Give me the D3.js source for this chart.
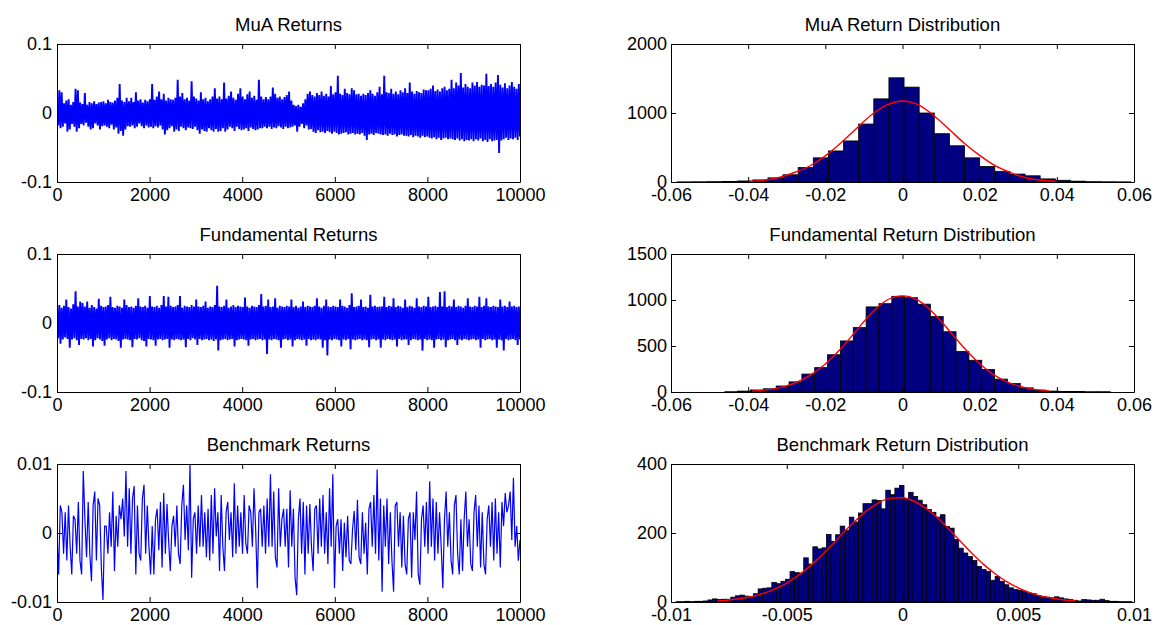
<!DOCTYPE html>
<html>
<head>
<meta charset="utf-8">
<script src="https://cdn.jsdelivr.net/npm/d3@7"></script>
<style>
  html, body { margin: 0; padding: 0; background: #ffffff; }
  svg { display: block; font-family: "Liberation Sans", Arial, Helvetica, sans-serif; }
</style>
</head>
<body>
<svg id="chart" width="1155" height="625"></svg>
<script>
// ---------------------------------------------------------------------------
// Return series (values in thousandths, evenly spaced over 0..10000 steps)
// ---------------------------------------------------------------------------
const muaReturns = [
  12,-18, 33,-22, 30,-20, 14,-15, 18,-27, 20,-24, 12,-16, 16,-20, 35,-27, 33,-22,
  15,-16, 13,-18, 29,-14, 12,-20, 16,-24, 14,-22, 17,-15, 13,-18, 15,-24, 16,-19,
  17,-18, 14,-20, 19,-22, 16,-17, 15,-24, 18,-21, 22,-30, 42,-26, 18,-33, 16,-24,
  22,-19, 17,-20, 22,-18, 16,-22, 30,-20, 18,-15, 20,-19, 15,-22, 19,-18, 17,-21,
  20,-20, 42,-22, 19,-19, 24,-21, 31,-18, 20,-24, 28,-31, 18,-25, 22,-22, 20,-19,
  19,-27, 22,-24, 48,-26, 24,-20, 29,-22, 20,-25, 22,-21, 18,-22, 46,-23, 24,-20,
  21,-25, 18,-30, 30,-24, 20,-26, 22,-27, 17,-22, 20,-25, 24,-27, 36,-23, 21,-27,
  24,-26, 20,-22, 44,-27, 21,-24, 25,-20, 31,-22, 22,-26, 19,-20, 28,-23, 36,-25,
  24,-24, 20,-22, 27,-26, 31,-21, 22,-23, 25,-25, 19,-24, 48,-22, 24,-22, 20,-20,
  23,-22, 20,-20, 24,-23, 37,-21, 28,-22, 22,-19, 24,-21, 20,-23, 23,-20, 26,-22,
  31,-21, 18,-20, 12,-18, 10,-27, 12,-20,  9,-16, 14,-22, 20,-18, 28,-24, 31,-23,
  26,-27, 24,-29, 29,-25, 26,-28, 31,-27, 25,-29, 28,-26, 24,-28, 39,-30, 27,-27,
  30,-29, 54,-31, 28,-30, 26,-29, 35,-28, 29,-31, 27,-30, 36,-29, 33,-31, 27,-30,
  28,-31, 25,-29, 28,-33, 26,-39, 29,-31, 33,-30, 28,-32, 25,-29, 30,-30, 38,-31,
  27,-32, 54,-31, 30,-33, 29,-30, 35,-32, 28,-31, 31,-34, 27,-32, 33,-31, 30,-33,
  36,-33, 29,-34, 44,-32, 31,-35, 28,-33, 32,-34, 30,-36, 29,-33, 34,-35, 33,-34,
  33,-36, 35,-37, 40,-35, 32,-38, 34,-36, 31,-39, 36,-37, 38,-36, 33,-38, 35,-37,
  48,-38, 36,-39, 44,-37, 40,-40, 58,-38, 37,-41, 42,-39, 38,-40, 36,-38, 44,-41,
  40,-38, 45,-40, 38,-37, 41,-41, 40,-39, 57,-42, 39,-38, 42,-41, 38,-40, 44,-39,
  55,-58, 41,-40, 37,-38, 43,-36, 36,-39, 40,-37, 45,-38, 38,-36, 35,-39, 42,-34
];

const fundamentalReturns = [
  24,-22, 26,-30, 22,-24, 25,-21, 34,-23, 23,-36, 21,-24, 27,-22, 46,-25, 24,-32,
  31,-23, 29,-24, 24,-22, 31,-25, 22,-23, 26,-34, 23,-25, 21,-22, 35,-24, 25,-26,
  23,-33, 24,-24, 26,-22, 38,-25, 23,-23, 22,-24, 25,-26, 24,-36, 22,-24, 34,-23,
  26,-24, 23,-25, 24,-35, 22,-23, 25,-24, 36,-22, 24,-25, 23,-26, 25,-34, 22,-23,
  39,-24, 24,-25, 23,-33, 25,-24, 22,-23, 26,-25, 39,-24, 24,-23, 38,-36, 25,-24,
  23,-25, 24,-23, 26,-24, 39,-25, 22,-24, 25,-35, 24,-23, 23,-25, 26,-22, 24,-24,
  34,-32, 24,-23, 23,-25, 25,-24, 31,-23, 22,-25, 24,-24, 23,-26, 26,-24, 54,-40,
  24,-25, 23,-24, 25,-23, 34,-25, 22,-24, 24,-23, 26,-34, 23,-25, 25,-24, 24,-23,
  23,-24, 37,-25, 24,-33, 22,-24, 25,-23, 24,-25, 23,-24, 26,-23, 42,-25, 24,-24,
  25,-45, 34,-24, 23,-25, 24,-23, 36,-24, 22,-25, 25,-36, 24,-24, 23,-23, 25,-25,
  24,-24, 34,-34, 23,-25, 25,-23, 22,-24, 24,-25, 31,-24, 23,-33, 25,-23, 24,-25,
  23,-24, 25,-25, 36,-23, 24,-24, 22,-36, 25,-25, 34,-47, 24,-24, 23,-25, 25,-23,
  24,-24, 23,-25, 34,-34, 25,-24, 24,-25, 22,-23, 26,-38, 43,-24, 23,-25, 24,-24,
  25,-23, 34,-25, 23,-24, 24,-25, 22,-35, 41,-24, 24,-23, 25,-25, 23,-24, 24,-36,
  24,-24, 38,-25, 23,-23, 25,-24, 24,-25, 36,-24, 23,-34, 25,-23, 24,-25, 22,-24,
  34,-24, 23,-32, 25,-25, 24,-23, 22,-24, 36,-25, 24,-24, 23,-40, 25,-23, 24,-25,
  38,-24, 23,-25, 24,-36, 25,-24, 23,-23, 45,-25, 24,-24, 46,-35, 23,-25, 25,-24,
  24,-23, 34,-25, 23,-32, 25,-24, 24,-25, 22,-23, 25,-24, 36,-25, 24,-24, 23,-23,
  25,-25, 24,-24, 38,-36, 23,-23, 25,-25, 36,-24, 24,-23, 23,-25, 25,-24, 24,-36,
  23,-24, 34,-25, 24,-40, 25,-23, 23,-25, 31,-24, 24,-23, 25,-25, 23,-32, 24,-24
];

const benchmarkReturns = [
  0,-6,4,3,-3,3,-4,4,-2,-6,2.5,2,-3,4.5,-4,-6,9,2,-3.5,4.5,-3,-7,4,6,-4,5,4,-5,-9.7,1,
  1,-3,3,-2,6,-5.5,2.5,-2,4,2,5,-0.5,9,-2,6.5,-3,5,6.8,-6,4,-3,-4,5,7,-3,4,-2,-6,1,-6,
  2,3.5,-2.5,4.5,-5,5.8,-3,4.2,-1.2,-5.5,1,2.5,-2,4,-3,-4.5,4,7,-1,4,-2.5,10,-6.5,2,3,
  -3,4,-2,5.5,-2,3,-3.5,3.5,-4,5.5,-3,6.5,-0.5,3,-5.5,5.5,-2,-5.5,3,4.5,-1,3,-3.5,7.2,
  -3,4,-2,3,-3,5.5,-1.5,-3,4,3,-2,6.5,0.5,-8,3,3.5,-2,4,-3,5,-2,8.5,-2,6,-3.5,-5,6.5,
  -2,2,3.5,-2,3.5,-5,6.2,-2,3.5,-6.5,-9,2,5,-3,4.5,-6,4,-3,4.2,-2,-5.5,3.5,4,-3,5,-2,
  5.5,-3,3,-4.5,6.5,-2,8.5,-8,1,2,-3,2,-5.5,1.5,-3.5,2.5,-4,-4.5,0.5,3.2,-2.5,4.8,-3.5,
  -4.5,3,-3,1.5,-6,3.5,4.5,-2,5.5,-3,9.2,-4,5,-8.5,4,-2,5,-4.5,3,-4,-8.5,4,4.5,-2,3,-5,
  2.5,-4.5,-6,2,3,-6.5,3,-1,6,-6,-7.5,2,4,-2,4.5,-3,7.5,-2,5,-4,4.5,-3,3,-2,-8,2,6,-2,
  3,-4,-6,4,5.5,-3,-6,2,-5.5,2,6,-2,2,-4.5,-5.5,3,5.5,-2,4,-5,3,-4.5,-6,2,4,-2,4.5,-4,
  5,-3,3,-5,4.5,1,5.8,3,4,6,-1,8,-2,1,-4,-1
];

const stepRange = [0, 10000];

// ---------------------------------------------------------------------------
// Histograms: bin range [first edge, last edge] and counts per bin
// ---------------------------------------------------------------------------
const muaBinRange = [-0.0584, 0.0592];
const muaCounts = [
  2, 3, 5, 8, 15, 30, 60, 105, 210, 350, 450, 595, 840, 1205, 1510,
  1375, 1000, 700, 525, 350, 225, 155, 115, 90, 45, 25, 12, 5, 3, 2
];

const fundBinRange = [-0.04606, 0.05384];
const fundCounts = [
  3, 10, 22, 35, 65, 110, 195, 265, 405, 555, 700, 925, 960, 1040, 1025,
  955, 820, 655, 440, 345, 245, 140, 92, 45, 20, 10, 6, 5, 3, 3
];

const benchBinRange = [-0.00978, 0.00991];
const benchCounts = [
  1, 1, 2, 1, 2, 2, 3, 6, 9, 7, 8, 8, 14, 18, 20, 17, 15, 24, 38, 40,
  41, 57, 53, 60, 66, 88, 85, 84, 128, 110, 160, 154, 157, 196, 176, 195, 220, 208, 246, 232,
  258, 285, 285, 296, 294, 270, 324, 311, 330, 338, 300, 318, 306, 295, 282, 268, 260, 246, 253, 219,
  214, 181, 156, 142, 132, 120, 103, 94, 89, 63, 74, 60, 50, 41, 36, 34, 31, 26, 24, 19,
  16, 14, 12, 15, 12, 9, 7, 5, 3, 7, 6, 5, 5, 8, 4, 2, 2, 1, 1, 1
];

// Normal fits drawn over each histogram
const muaFitX = [-0.040,-0.036,-0.032,-0.028,-0.024,-0.020,-0.016,-0.012,-0.008,-0.004,0,
                 0.004,0.008,0.012,0.016,0.020,0.024,0.028,0.032,0.036,0.040];
const muaFitY = [8,26,66,138,232,378,565,772,975,1118,1174,1120,968,768,562,385,236,135,62,25,9];

const fundFitX = [-0.039,-0.036,-0.032,-0.028,-0.024,-0.020,-0.016,-0.012,-0.008,-0.004,0,
                  0.004,0.008,0.012,0.016,0.020,0.024,0.028,0.032,0.036,0.038];
const fundFitY = [10,20,45,95,180,305,470,665,860,1000,1045,998,860,672,478,306,178,94,45,20,12];

const benchFitX = [-0.008,-0.0075,-0.007,-0.0065,-0.006,-0.0055,-0.005,-0.0045,-0.004,-0.0035,
                   -0.003,-0.0025,-0.002,-0.0015,-0.001,-0.0005,0,0.0005,0.001,0.0015,
                   0.002,0.0025,0.003,0.0035,0.004,0.0045,0.005,0.0055,0.006,0.0065,0.007,0.0075];
const benchFitY = [3,6,10,16,25,38,55,77,104,135,169,205,238,267,289,301,302,292,272,245,
                   211,176,141,109,82,59,41,27,17,11,6,4];

// ---------------------------------------------------------------------------
// Tick values and labels
// ---------------------------------------------------------------------------
const stepTicks = [0, 2000, 4000, 6000, 8000, 10000];
const stepTickLabels = ["0", "2000", "4000", "6000", "8000", "10000"];
const returnTicks = [-0.1, 0, 0.1];
const returnTickLabels = ["-0.1", "0", "0.1"];
const benchReturnTicks = [-0.01, 0, 0.01];
const benchReturnTickLabels = ["-0.01", "0", "0.01"];
const distTicks = [-0.06, -0.04, -0.02, 0, 0.02, 0.04, 0.06];
const distTickLabels = ["-0.06", "-0.04", "-0.02", "0", "0.02", "0.04", "0.06"];
const benchDistTicks = [-0.01, -0.005, 0, 0.005, 0.01];
const benchDistTickLabels = ["-0.01", "-0.005", "0", "0.005", "0.01"];
const muaCountTicks = [0, 1000, 2000];
const fundCountTicks = [0, 500, 1000, 1500];
const benchCountTicks = [0, 200, 400];

// ---------------------------------------------------------------------------
// Layout
// ---------------------------------------------------------------------------
const svg = d3.select("#chart");
const PW = 463, PH = 138;
const colLeft = [57, 671];
const rowTop = [44, 254, 464];
const FONT = 18;
let clipId = 0;

function makePanel(col, row, xDomain, yDomain) {
  const px = colLeft[col], py = rowTop[row];
  const x = d3.scaleLinear().domain(xDomain).range([px, px + PW]);
  const y = d3.scaleLinear().domain(yDomain).range([py + PH, py]);
  const id = "clip" + (clipId++);
  svg.append("clipPath").attr("id", id)
    .append("rect").attr("x", px).attr("y", py).attr("width", PW).attr("height", PH);
  const plot = svg.append("g").attr("clip-path", `url(#${id})`);
  return { px, py, x, y, plot };
}

function drawFrame(p, title, xt, xl, yt, yl, yPad) {
  const fmtX = (d, i) => xl[i];
  const fmtY = (d, i) => yl[i];
  const styleAxis = g => {
    g.attr("font-size", FONT).attr("font-family", null);
    g.selectAll("path.domain").attr("stroke", "#000").attr("stroke-width", 1);
    g.selectAll(".tick line").attr("stroke", "#000").attr("stroke-width", 1);
  };
  svg.append("g").attr("transform", `translate(0,${p.py + PH})`)
    .call(d3.axisBottom(p.x).tickValues(xt).tickFormat(fmtX)
      .tickSizeInner(-5).tickSizeOuter(0).tickPadding(6))
    .call(styleAxis);
  svg.append("g").attr("transform", `translate(0,${p.py})`)
    .call(d3.axisTop(p.x).tickValues(xt).tickFormat("")
      .tickSizeInner(-5).tickSizeOuter(0))
    .call(styleAxis);
  svg.append("g").attr("transform", `translate(${p.px},0)`)
    .call(d3.axisLeft(p.y).tickValues(yt).tickFormat(fmtY)
      .tickSizeInner(-5).tickSizeOuter(0).tickPadding(yPad))
    .call(styleAxis);
  svg.append("g").attr("transform", `translate(${p.px + PW},0)`)
    .call(d3.axisRight(p.y).tickValues(yt).tickFormat("")
      .tickSizeInner(-5).tickSizeOuter(0))
    .call(styleAxis);
  svg.append("text")
    .attr("x", p.px + PW / 2).attr("y", p.py - 13)
    .attr("text-anchor", "middle").attr("font-size", 18.5).attr("fill", "#000")
    .text(title);
}

function drawSeries(p, values, width) {
  const step = (stepRange[1] - stepRange[0]) / (values.length - 1);
  const line = d3.line()
    .x((d, i) => p.x(stepRange[0] + i * step))
    .y(d => p.y(d / 1000));
  p.plot.append("path").datum(values)
    .attr("d", line).attr("fill", "none")
    .attr("stroke", "#0000ff").attr("stroke-width", width)
    .attr("stroke-linejoin", "bevel");
}

function drawHistogram(p, range, counts, fitX, fitY) {
  const w = (range[1] - range[0]) / counts.length;
  p.plot.selectAll("rect.bar").data(counts).enter().append("rect")
    .attr("class", "bar")
    .attr("x", (d, i) => p.x(range[0] + i * w))
    .attr("width", (d, i) => p.x(range[0] + (i + 1) * w) - p.x(range[0] + i * w))
    .attr("y", d => p.y(d))
    .attr("height", d => p.y(0) - p.y(d))
    .attr("fill", "#000080").attr("stroke", "#000").attr("stroke-width", 0.8);
  const fit = d3.line()
    .x((d, i) => p.x(fitX[i]))
    .y(d => p.y(d))
    .curve(d3.curveMonotoneX);
  p.plot.append("path").datum(fitY)
    .attr("d", fit).attr("fill", "none")
    .attr("stroke", "#ff0000").attr("stroke-width", 1.4);
}

// Row 1: MuA
const p1 = makePanel(0, 0, stepRange, [-0.1, 0.1]);
drawSeries(p1, muaReturns, 1.9);
drawFrame(p1, "MuA Returns", stepTicks, stepTickLabels, returnTicks, returnTickLabels, 5);

const p2 = makePanel(1, 0, [-0.06, 0.06], [0, 2000]);
drawHistogram(p2, muaBinRange, muaCounts, muaFitX, muaFitY);
drawFrame(p2, "MuA Return Distribution", distTicks, distTickLabels,
  muaCountTicks, muaCountTicks.map(String), 4);

// Row 2: Fundamental
const p3 = makePanel(0, 1, stepRange, [-0.1, 0.1]);
drawSeries(p3, fundamentalReturns, 1.9);
drawFrame(p3, "Fundamental Returns", stepTicks, stepTickLabels, returnTicks, returnTickLabels, 5);

const p4 = makePanel(1, 1, [-0.06, 0.06], [0, 1500]);
drawHistogram(p4, fundBinRange, fundCounts, fundFitX, fundFitY);
drawFrame(p4, "Fundamental Return Distribution", distTicks, distTickLabels,
  fundCountTicks, fundCountTicks.map(String), 4);

// Row 3: Benchmark
const p5 = makePanel(0, 2, stepRange, [-0.01, 0.01]);
drawSeries(p5, benchmarkReturns, 1.2);
drawFrame(p5, "Benchmark Returns", stepTicks, stepTickLabels, benchReturnTicks, benchReturnTickLabels, 5);

const p6 = makePanel(1, 2, [-0.01, 0.01], [0, 400]);
drawHistogram(p6, benchBinRange, benchCounts, benchFitX, benchFitY);
drawFrame(p6, "Benchmark Return Distribution", benchDistTicks, benchDistTickLabels,
  benchCountTicks, benchCountTicks.map(String), 4);
</script>
</body>
</html>
